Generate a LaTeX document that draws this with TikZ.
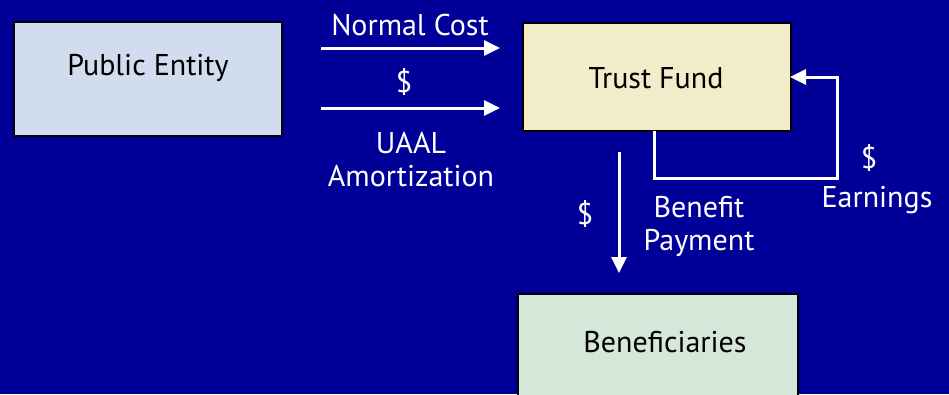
\documentclass[tikz,border=0pt]{standalone}
\usepackage{fontspec}
\setmainfont{PT Sans}
\usetikzlibrary{arrows.meta}
\definecolor{bgblue}{HTML}{000099}
\definecolor{peFill}{HTML}{D1DDEE}
\definecolor{tfFill}{HTML}{F2ECCA}
\definecolor{bnFill}{HTML}{D5E7D8}
\tikzset{
  box/.style={draw=black, line width=2.8pt, inner sep=0pt},
  lbl/.style={text=white, font=\fontsize{30}{33}\selectfont, inner sep=0pt},
  blbl/.style={text=black, font=\fontsize{30}{33}\selectfont, inner sep=0pt},
  flow/.style={draw=white, line width=3pt, -{Triangle[length=16pt,width=15pt]}},
}
\begin{document}
\begin{tikzpicture}[x=1pt,y=-1pt]
\useasboundingbox (0,0) rectangle (949,394);
\fill[bgblue] (0,0) rectangle (949,394);
\begin{scope}
\clip (0,0) rectangle (949,394);
\draw[box, fill=peFill] (14,22) rectangle (282,136);
\draw[box, fill=tfFill] (523,23) rectangle (791,131);
\draw[box, fill=bnFill] (518,294) rectangle (798,420);
\end{scope}
\node[blbl] (pe) at (148,68) {Public Entity};
\node[blbl] (tf) at (656,78) {Trust Fund};
\node[blbl] (bn) at (665,342) {Beneficiaries};
\coordinate (a1s) at (321,48);
\coordinate (a1e) at (500,48);
\coordinate (a2s) at (321,108);
\coordinate (a2e) at (500,108);
\draw[flow] (a1s) -- (a1e);
\draw[flow] (a2s) -- (a2e);
\node[lbl] (nc) at (410,25) {Normal Cost};
\node[lbl] (d1) at (404,82) {\$};
\node[lbl, align=center] (uaal) at (411,160) {UAAL\\Amortization};
\coordinate (ls) at (654,131);
\coordinate (lc1) at (654,178);
\coordinate (lc2) at (837,178);
\coordinate (lc3) at (837,77);
\coordinate (le) at (790,77);
\draw[flow] (ls) -- (lc1) -- (lc2) -- (lc3) -- (le);
\node[lbl] (d2) at (869,158) {\$};
\node[lbl] (earn) at (877,200) {Earnings};
\coordinate (bs) at (619,152);
\coordinate (be) at (619,273);
\draw[flow] (bs) -- (be);
\node[lbl] (d3) at (585,214) {\$};
\node[lbl, align=center] (bp) at (699,226) {Benefit\\Payment};
\end{tikzpicture}
\end{document}
